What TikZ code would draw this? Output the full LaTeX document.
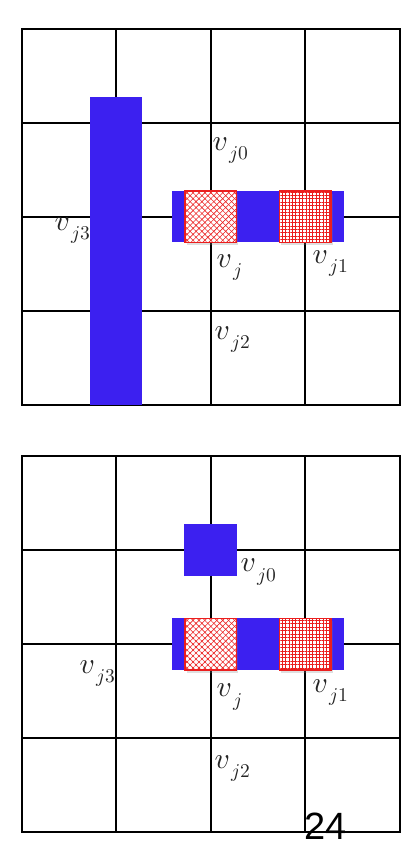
\documentclass[tikz,border=0pt]{standalone}
\usepackage{graphicx}
\usepackage{fontspec}
\newfontfamily\numfont{Liberation Sans}
\usetikzlibrary{patterns.meta,shadows}
\definecolor{barblue}{RGB}{60,32,240}
\definecolor{hatchred}{RGB}{235,30,30}
\newcommand{\biglbl}[1]{\scalebox{2.95}{$v$}\hspace{1pt}\raisebox{-9.5pt}{\scalebox{1.95}{$#1$}}}
\tikzset{
  gridline/.style={line width=1.8pt,black},
  bar/.style={fill=barblue,draw=none},
  hatchsq/.style={draw=hatchred,line width=1.5pt,fill=white,
    drop shadow={shadow xshift=2pt,shadow yshift=-2.5pt,opacity=0.25}},
  hatchedge/.style={draw=hatchred,line width=1.5pt},
  diagA/.style={pattern={Lines[angle=45,distance=4.2pt,line width=0.6pt]},pattern color=hatchred},
  diagB/.style={pattern={Lines[angle=-45,distance=4.2pt,line width=0.6pt]},pattern color=hatchred},
  gridA/.style={pattern={Lines[angle=0,distance=3.4pt,line width=0.7pt]},pattern color=hatchred},
  gridB/.style={pattern={Lines[angle=90,distance=3.4pt,line width=0.7pt]},pattern color=hatchred},
  lbl/.style={inner sep=0pt,anchor=base west,text=black!85},
}
\begin{document}
\begin{tikzpicture}[x=1pt,y=-1pt]
\fill[white] (0,0) rectangle (407,855);
\useasboundingbox (0,0) rectangle (407,855);
% ---------- top grid ----------
\draw[gridline] (21.7,28.7) rectangle (400,405);
\foreach \cx in {116,210.7,305} \draw[gridline] (\cx,28.7) -- (\cx,405);
\foreach \ry in {122.7,217,311.3} \draw[gridline] (21.7,\ry) -- (400,\ry);
\path[bar] (90.3,96.7) rectangle (142.3,405);
\path[bar] (172,191) rectangle (343.7,242.3);
\path[hatchsq] (185,191) rectangle (236.3,242.3);
\path[diagA] (185,191) rectangle (236.3,242.3);
\path[diagB] (185,191) rectangle (236.3,242.3);
\draw[hatchedge] (185,191) rectangle (236.3,242.3);
\path[hatchsq] (279.3,191) rectangle (331,242.3);
\path[gridA] (279.3,191) rectangle (331,242.3);
\path[gridB] (279.3,191) rectangle (331,242.3);
\draw[hatchedge] (279.3,191) rectangle (331,242.3);
\node[lbl] (a0) at (212.5,150) {\biglbl{j0}};
\node[lbl] (a3) at (54.5,230) {\biglbl{j3}};
\node[lbl] (aj) at (216.5,267) {\biglbl{j}};
\node[lbl] (a1) at (312.5,263) {\biglbl{j1}};
\node[lbl] (a2) at (214.5,339) {\biglbl{j2}};
% ---------- bottom grid ----------
\draw[gridline] (21.7,456) rectangle (400,832.3);
\foreach \cx in {116,210.7,305} \draw[gridline] (\cx,456) -- (\cx,832.3);
\foreach \ry in {550,644,738.3} \draw[gridline] (21.7,\ry) -- (400,\ry);
\path[bar] (184.3,524) rectangle (236.7,575.7);
\path[bar] (172,618.3) rectangle (343.7,670);
\path[hatchsq] (185,618.3) rectangle (236.3,670);
\path[diagA] (185,618.3) rectangle (236.3,670);
\path[diagB] (185,618.3) rectangle (236.3,670);
\draw[hatchedge] (185,618.3) rectangle (236.3,670);
\path[hatchsq] (279.3,618.3) rectangle (331,670);
\path[gridA] (279.3,618.3) rectangle (331,670);
\path[gridB] (279.3,618.3) rectangle (331,670);
\draw[hatchedge] (279.3,618.3) rectangle (331,670);
\node[lbl] (b0) at (240.5,571.5) {\biglbl{j0}};
\node[lbl] (b3) at (79.5,673) {\biglbl{j3}};
\node[lbl] (bj) at (216.5,696.5) {\biglbl{j}};
\node[lbl] (b1) at (312.5,692) {\biglbl{j1}};
\node[lbl] (b2) at (214.5,768) {\biglbl{j2}};
\node[inner sep=0pt,anchor=base west,font=\numfont\fontsize{38}{44}\selectfont] (pg) at (304,839) {24};
\end{tikzpicture}
\end{document}
